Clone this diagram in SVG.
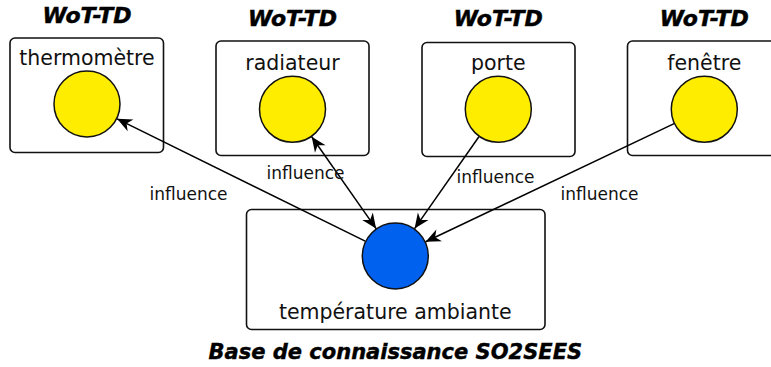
<svg xmlns="http://www.w3.org/2000/svg" width="771" height="367" viewBox="0 0 771 367">
<style>
.box{fill:#fff;stroke:#111;stroke-width:1.6}
.dev{fill:#ffed00;stroke:#111;stroke-width:1.5}
.kb{fill:#0061ee;stroke:#111;stroke-width:1.5}
.lbl{font-family:"DejaVu Sans",sans-serif;font-size:20.5px;fill:#111;text-anchor:middle}
.ttl{font-family:"DejaVu Sans",sans-serif;font-size:22px;font-weight:bold;font-style:italic;fill:#000;stroke:#000;stroke-width:0.5;text-anchor:middle}
.ttl2{font-family:"DejaVu Sans",sans-serif;font-size:21px;font-weight:bold;font-style:italic;fill:#000;stroke:#000;stroke-width:0.4;text-anchor:middle}
.el{font-family:"DejaVu Sans",sans-serif;font-size:17px;fill:#111;text-anchor:middle}
.con{fill:none;stroke:#000;stroke-width:1.5}
</style>
<defs>
<marker id="arr" viewBox="-16 -8 18 16" refX="0" refY="0" markerWidth="18" markerHeight="16" markerUnits="userSpaceOnUse" orient="auto-start-reverse">
<path d="M0,0 L-15,-6.5 L-10.5,0 L-15,6.5 Z" fill="#000"/>
</marker>
</defs>
<g id="thermometre">
<text class="ttl" x="87" y="23">WoT-TD</text>
<rect class="box" x="10" y="38" width="153.5" height="114.5" rx="5"/>
<text class="lbl" x="87" y="65">thermomètre</text>
<circle class="dev" cx="87" cy="104" r="33"/>
</g>
<g id="radiateur">
<text class="ttl" x="292.5" y="25.5">WoT-TD</text>
<rect class="box" x="216" y="41" width="153" height="114.5" rx="5"/>
<text class="lbl" x="292.5" y="69.5">radiateur</text>
<circle class="dev" cx="292.5" cy="109.3" r="33"/>
</g>
<g id="porte">
<text class="ttl" x="498.3" y="26">WoT-TD</text>
<rect class="box" x="422" y="42.5" width="153" height="114" rx="5"/>
<text class="lbl" x="498.3" y="70">porte</text>
<circle class="dev" cx="498.3" cy="109.3" r="33"/>
</g>
<g id="fenetre">
<text class="ttl" x="704.3" y="25.5">WoT-TD</text>
<rect class="box" x="627.5" y="41" width="153" height="114.5" rx="5"/>
<text class="lbl" x="704.3" y="70">fenêtre</text>
<circle class="dev" cx="704.3" cy="109.3" r="33"/>
</g>
<g id="temperature">
<rect class="box" x="246.5" y="209.5" width="298.5" height="120" rx="5"/>
<circle class="kb" cx="395.3" cy="256" r="33"/>
<text class="lbl" x="395.3" y="318.5">température ambiante</text>
<text class="ttl2" x="395.3" y="359">Base de connaissance SO2SEES</text>
</g>
<g id="connectors">
<line class="con" x1="365.2" y1="241.2" x2="117.1" y2="118.8" marker-end="url(#arr)"/>
<line class="con" x1="311.7" y1="136.7" x2="376.1" y2="228.6" marker-start="url(#arr)" marker-end="url(#arr)"/>
<line class="con" x1="478.9" y1="136.7" x2="414.6" y2="228.6" marker-end="url(#arr)"/>
<line class="con" x1="674.1" y1="123.6" x2="425.6" y2="241.8" marker-end="url(#arr)"/>
<text class="el" x="188.5" y="200">influence</text>
<text class="el" x="305.5" y="179">influence</text>
<text class="el" x="495.5" y="183">influence</text>
<text class="el" x="599.5" y="200">influence</text>
</g>
</svg>
